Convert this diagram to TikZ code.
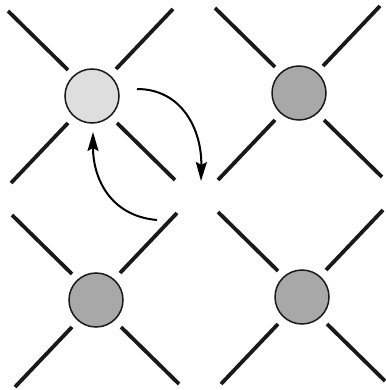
\documentclass[tikz,border=0pt]{standalone}
\usetikzlibrary{calc,arrows.meta}
\definecolor{palefill}{gray}{0.87}
\definecolor{darkfill}{gray}{0.66}
\tikzset{
  site/.style={circle, draw=black!90, line width=1.5pt, minimum size=54pt, inner sep=0pt},
  arm/.style={line width=3.8pt, black!90},
  hop/.style={line width=2pt, -{Stealth[length=19pt,width=11pt,inset=3pt]}},
}
\begin{document}
\begin{tikzpicture}[x=1pt,y=-1pt]
  \useasboundingbox (0,0) rectangle (385,390);
  % four sites
  \node[site, fill=palefill] (a) at (92,96) {};
  \node[site, fill=darkfill] (b) at (299,93) {};
  \node[site, fill=darkfill] (c) at (96,300) {};
  \node[site, fill=darkfill] (d) at (302,297) {};
  % four arms of each cross
  \foreach \n in {a,b,c,d} {
    \draw[arm] ($(\n)+(-24,-26)$) -- ($(\n)+(-84,-85)$);
    \draw[arm] ($(\n)+(24,-27)$) -- ($(\n)+(81,-87)$);
    \draw[arm] ($(\n)+(-24,27)$) -- ($(\n)+(-81,87)$);
    \draw[arm] ($(\n)+(25,27)$) -- ($(\n)+(83,84)$);
  }
  % hopping arrows
  \coordinate (out1) at (137,89);
  \coordinate (in1) at (201,181);
  \coordinate (out2) at (157,220);
  \coordinate (in2) at (93,132);
  \draw[hop] (out1) .. controls (182,89) and (202,130) .. (in1);
  \draw[hop] (out2) .. controls (110,216) and (93,178) .. (in2);
\end{tikzpicture}
\end{document}
